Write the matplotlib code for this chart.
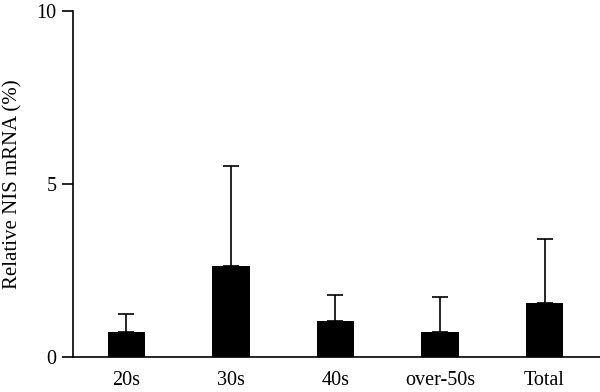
import matplotlib
matplotlib.use("Agg")
import matplotlib.pyplot as plt
import numpy as np

groups = ["20s", "30s", "40s", "over-50s", "Total"]
means = [0.73, 2.64, 1.05, 0.73, 1.56]
sd_upper = [0.52, 2.89, 0.74, 0.99, 1.85]

plt.rcParams["font.family"] = ["Liberation Serif", "DejaVu Serif"]

fig = plt.figure(figsize=(6.0, 3.92), dpi=100)
ax = fig.add_axes([0.1217, 0.0893, 0.8783, 0.8827])

x = np.arange(len(groups))
lower = np.zeros(len(groups))
ax.bar(x, means, width=0.36, color="black", zorder=3)
ax.errorbar(x, means, yerr=[lower, sd_upper], fmt="none", ecolor="black",
            elinewidth=1.2, capsize=6, capthick=1.2, zorder=2)

ax.set_xlim(-0.51, 4.53)
ax.set_ylim(0, 10)
ax.set_yticks([0, 5, 10])
ax.set_xticks(x)
ax.set_xticklabels(groups)
ax.set_ylabel("Relative NIS mRNA (%)", fontsize=15, labelpad=10)

for side in ["top", "right"]:
    ax.spines[side].set_visible(False)
for side in ["left", "bottom"]:
    ax.spines[side].set_linewidth(1.2)

ax.tick_params(axis="y", length=8, width=1.2, labelsize=14.5, pad=4)
ax.tick_params(axis="x", length=0, labelsize=14.5, pad=10)

fig.savefig("out.png", dpi=100)
